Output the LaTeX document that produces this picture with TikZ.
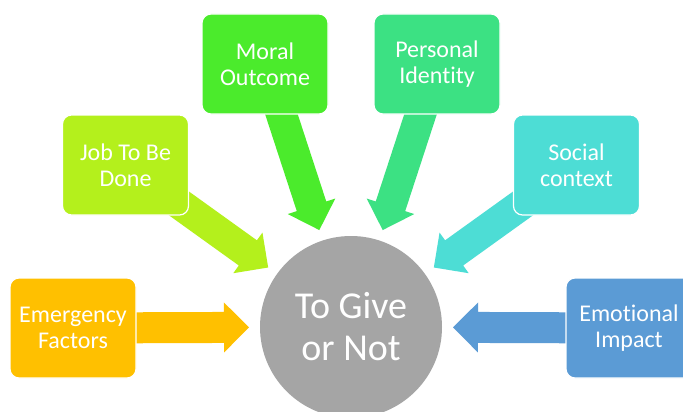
\documentclass[tikz,border=0pt]{standalone}
\usepackage{fontspec}
\setmainfont[Ligatures={NoCommon,NoRequired,NoContextual}]{Carlito}
\usetikzlibrary{calc}

\definecolor{emergcol}{HTML}{FFC000}
\definecolor{jobcol}{HTML}{B4F01C}
\definecolor{moralcol}{HTML}{4BEB2C}
\definecolor{identcol}{HTML}{3CE183}
\definecolor{socialcol}{HTML}{4DDDD5}
\definecolor{emotcol}{HTML}{5B9BD5}
\definecolor{hubcol}{HTML}{A5A5A5}

\pgfdeclarelayer{backdrop}
\pgfdeclarelayer{arrowlayer}
\pgfsetlayers{backdrop,arrowlayer,main}

\tikzset{
  factor/.style={rounded corners=9pt, fill=#1, draw=white, line width=1.2pt,
    minimum width=126pt, minimum height=100pt, inner sep=0pt,
    text=white, align=center, font=\fontsize{24}{26}\selectfont},
  hub/.style={circle, fill=hubcol, minimum size=182pt, inner sep=0pt,
    text=white, align=center, font=\fontsize{38}{42}\selectfont},
}

% Block arrow: #1 name, #2 colour, #3 source node, #4 tip coordinate
\newcommand\blockarrow[4]{%
  \coordinate (#1-h) at ($(#4)!25pt!(#3)$);
  \fill[#2] ($(#3)!15.5pt!90:(#4)$) -- ($(#1-h)!15.5pt!90:(#4)$)
    -- ($(#1-h)!25pt!90:(#4)$) -- (#4) -- ($(#1-h)!25pt!-90:(#4)$)
    -- ($(#1-h)!15.5pt!-90:(#4)$) -- ($(#3)!15.5pt!-90:(#4)$) -- cycle;
}

\begin{document}
\begin{tikzpicture}[x=1pt,y=-1pt]
  \useasboundingbox (0,0) rectangle (683,412);
  \clip (0,0) rectangle (683,412);
  \begin{pgfonlayer}{backdrop}
    \fill[white] (0,0) rectangle (683,412);
  \end{pgfonlayer}

  % central decision
  \node[hub] (hub) at (351,327) {To Give\\or Not};

  % contributing factors
  \node[factor=emergcol]  (emerg)  at (73,328)  {Emergency\\Factors};
  \node[factor=jobcol]    (job)    at (125.5,165) {Job To Be\\Done};
  \node[factor=moralcol]  (moral)  at (265,64)  {Moral\\Outcome};
  \node[factor=identcol]  (ident)  at (437,64)  {Personal\\Identity};
  \node[factor=socialcol] (social) at (576.5,165) {Social\\context};
  \node[factor=emotcol]   (emot)   at (629,328) {Emotional\\Impact};

  % arrow tips, just outside the hub
  \foreach \n in {emerg,job,moral,ident,social,emot}
    \coordinate (\n-tip) at ($(hub.center)!102pt!(\n.center)$);

  \begin{pgfonlayer}{arrowlayer}
    \blockarrow{a1}{emergcol}{emerg.center}{emerg-tip}
    \blockarrow{a2}{jobcol}{job.center}{job-tip}
    \blockarrow{a3}{moralcol}{moral.center}{moral-tip}
    \blockarrow{a4}{identcol}{ident.center}{ident-tip}
    \blockarrow{a5}{socialcol}{social.center}{social-tip}
    \blockarrow{a6}{emotcol}{emot.center}{emot-tip}
  \end{pgfonlayer}
\end{tikzpicture}
\end{document}
